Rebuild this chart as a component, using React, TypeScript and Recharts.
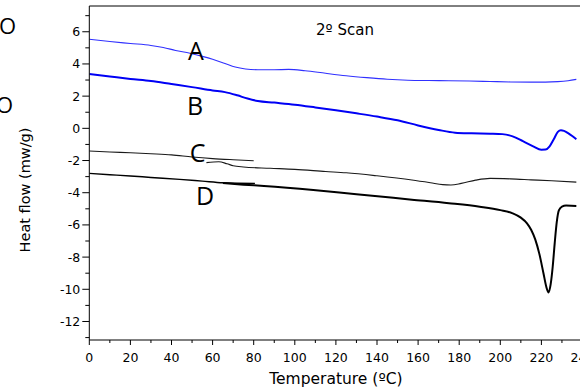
import { LineChart, Line, XAxis, YAxis, ReferenceLine } from 'recharts'

// curve A (2nd scan, thin blue)
const tempA = [0, 10, 20, 30, 36, 42, 49, 55, 60, 66, 71, 76, 82, 90, 97, 105, 115, 125, 135, 145, 155, 165, 175, 185, 195, 205, 215, 222, 228, 233, 237]
const flowA = [5.53, 5.39, 5.27, 5.15, 5.02, 4.84, 4.66, 4.47, 4.29, 4.03, 3.81, 3.69, 3.64, 3.64, 3.66, 3.58, 3.42, 3.27, 3.15, 3.05, 2.99, 2.97, 2.96, 2.94, 2.91, 2.88, 2.87, 2.87, 2.9, 2.96, 3.04]

// curve B (thick blue)
const tempB = [0, 10, 20, 30, 40, 50, 60, 66, 72, 77, 82, 90, 100, 110, 120, 130, 140, 150, 160, 170, 178, 186, 195, 201, 206, 211, 216, 220, 222, 224, 226, 228, 229.5, 231, 233, 235, 237]
const flowB = [3.37, 3.22, 3.07, 2.94, 2.75, 2.56, 2.35, 2.25, 2.05, 1.85, 1.7, 1.6, 1.47, 1.3, 1.12, 0.93, 0.73, 0.5, 0.18, -0.1, -0.27, -0.31, -0.33, -0.36, -0.5, -0.8, -1.12, -1.33, -1.32, -1.12, -0.68, -0.22, -0.12, -0.16, -0.3, -0.48, -0.68]

// curve C (thin black), first segment and the spliced rest
const tempC1 = [0, 10, 20, 30, 40, 50, 60, 70, 80]
const flowC1 = [-1.41, -1.47, -1.52, -1.58, -1.65, -1.78, -1.88, -1.95, -2.01]
const tempC2 = [57, 63, 67, 70, 75, 88, 100, 115, 125, 140, 157, 166, 172, 176, 181, 188, 195, 205, 215, 225, 237]
const flowC2 = [-2.13, -2.08, -2.2, -2.32, -2.4, -2.48, -2.55, -2.68, -2.76, -2.95, -3.21, -3.38, -3.5, -3.52, -3.42, -3.22, -3.11, -3.14, -3.2, -3.26, -3.34]

// curve D (thick black)
const tempD1 = [0, 10, 20, 30, 44, 55, 65, 72, 80.6]
const flowD1 = [-2.8, -2.88, -2.96, -3.05, -3.17, -3.28, -3.38, -3.41, -3.42]
const tempD2 = [65, 75, 85, 109, 130, 157, 175, 190, 200, 206, 210, 213, 215, 217, 219, 221, 222.5, 223.5, 224.5, 225.5, 226.5, 227.5, 228.5, 230, 232, 237]
const flowD2 = [-3.4, -3.5, -3.58, -3.83, -4.1, -4.43, -4.65, -4.87, -5.08, -5.28, -5.55, -5.9, -6.3, -6.9, -7.8, -9.0, -9.9, -10.2, -9.7, -8.6, -7.1, -5.8, -5.1, -4.86, -4.8, -4.82]

const xTicks = [0, 10, 20, 30, 40, 50, 60, 70, 80, 90, 100, 110, 120, 130, 140, 150, 160, 170, 180, 190, 200, 210, 220, 230, 240]
const yTicks = [-13, -12, -11, -10, -9, -8, -7, -6, -5, -4, -3, -2, -1, 0, 1, 2, 3, 4, 5, 6, 7]

const toPoints = (t: number[], v: number[]) => t.map((x, i) => ({ t: x, v: v[i] }))

const FONT = 'DejaVu Sans'

const XTick = ({ x, y, payload }: any) => {
  const major = payload.value % 20 === 0
  return (
    <g>
      <line x1={x} x2={x} y1={y} y2={y + (major ? 5 : 3)} stroke="#000" />
      {major && (
        <text x={x} y={y + 21.5} textAnchor="middle" fontSize={12.5} fontFamily={FONT} fill="#000">
          {payload.value}
        </text>
      )}
    </g>
  )
}

const YTick = ({ x, y, payload }: any) => {
  const major = payload.value % 2 === 0
  return (
    <g>
      <line x1={x - (major ? 7 : 4)} x2={x} y1={y} y2={y} stroke="#000" />
      {major && (
        <text x={x - 9} y={y + 4.5} textAnchor="end" fontSize={12.5} fontFamily={FONT} fill="#000">
          {payload.value}
        </text>
      )}
    </g>
  )
}

export default function App() {
  const letter = { fontFamily: 'Open Sans', fontSize: 25, fill: '#000', textAnchor: 'middle' as const }
  return (
    <div style={{ position: 'absolute', left: 0, top: 0, width: 580, height: 390, overflow: 'hidden', background: '#fff' }}>
      <LineChart width={600} height={390} margin={{ top: 6, right: 17.5, left: 0, bottom: 0 }}>
        <XAxis
          dataKey="t"
          type="number"
          domain={[0, 240]}
          ticks={xTicks}
          interval={0}
          allowDataOverflow
          height={50}
          tickSize={0}
          tickMargin={0}
          tickLine={false}
          tick={<XTick />}
          axisLine={{ stroke: '#000' }}
          label={{ value: 'Temperature (ºC)', position: 'insideBottom', offset: 6, fontSize: 15.5, fontFamily: FONT, fill: '#000' }}
        />
        <YAxis
          type="number"
          domain={[-13.15, 7.6]}
          ticks={yTicks}
          interval={0}
          allowDataOverflow
          width={89.3}
          tickSize={0}
          tickMargin={0}
          tickLine={false}
          tick={<YTick />}
          axisLine={{ stroke: '#000' }}
        />
        <ReferenceLine y={7.6} stroke="#000" />
        <Line data={toPoints(tempA, flowA)} dataKey="v" type="monotone" stroke="#3030ff" strokeWidth={1.1} dot={false} isAnimationActive={false} />
        <Line data={toPoints(tempB, flowB)} dataKey="v" type="monotone" stroke="#0000f5" strokeWidth={2} dot={false} isAnimationActive={false} />
        <Line data={toPoints(tempC1, flowC1)} dataKey="v" type="monotone" stroke="#1a1a1a" strokeWidth={1.1} dot={false} isAnimationActive={false} />
        <Line data={toPoints(tempC2, flowC2)} dataKey="v" type="monotone" stroke="#1a1a1a" strokeWidth={1.1} dot={false} isAnimationActive={false} />
        <Line data={toPoints(tempD1, flowD1)} dataKey="v" type="monotone" stroke="#000" strokeWidth={1.4} dot={false} isAnimationActive={false} />
        <Line data={toPoints(tempD2, flowD2)} dataKey="v" type="monotone" stroke="#000" strokeWidth={2} dot={false} isAnimationActive={false} />
      </LineChart>
      <svg width={580} height={390} style={{ position: 'absolute', left: 0, top: 0, pointerEvents: 'none' }}>
        <text x={16} y={33.5} fontFamily="Open Sans" fontSize={22} textAnchor="end" fill="#000">O</text>
        <text x={13} y={112.5} fontFamily="Open Sans" fontSize={22} textAnchor="end" fill="#000">O</text>
        <text transform="translate(30,190) rotate(-90)" textAnchor="middle" fontFamily={FONT} fontSize={14.5} fill="#000">
          Heat flow (mw/g)
        </text>
        <text x={345} y={35} textAnchor="middle" fontFamily={FONT} fontSize={15} fill="#000">2º Scan</text>
        <text x={196} y={60} {...letter}>A</text>
        <text x={195} y={115} {...letter}>B</text>
        <text x={197.5} y={162} {...letter}>C</text>
        <text x={205} y={205} {...letter}>D</text>
      </svg>
    </div>
  )
}
